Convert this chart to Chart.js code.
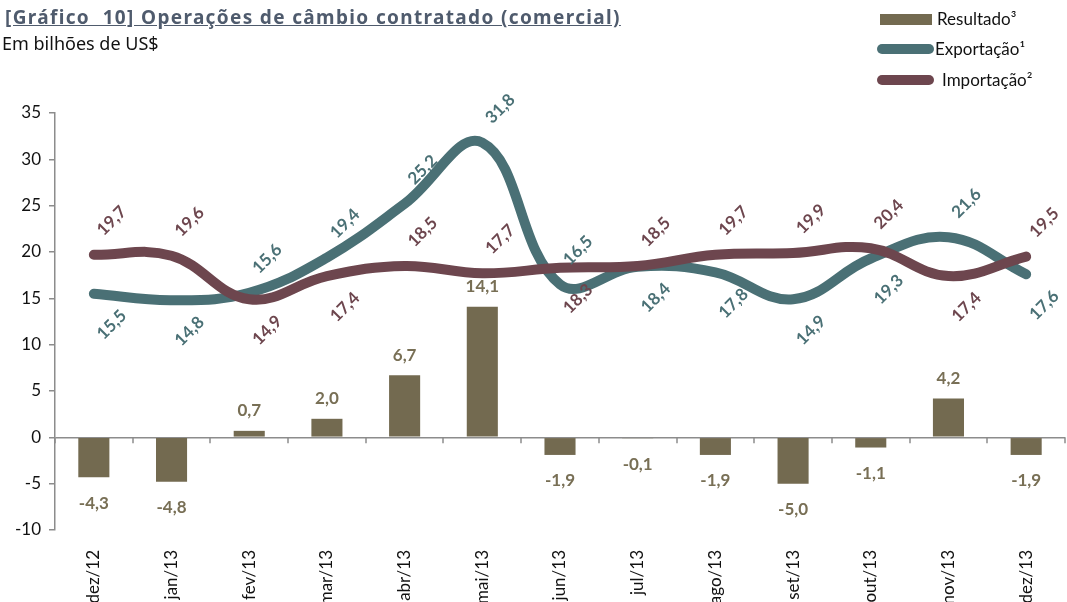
<!DOCTYPE html>
<html>
<head>
<meta charset="utf-8">
<script src="https://cdn.jsdelivr.net/npm/chart.js@4.4.0/dist/chart.umd.min.js"></script>
<style>
  body { margin: 0; background: #fff; }
  #wrap { position: relative; width: 1067px; height: 602px; overflow: hidden; }
  #chart { position: absolute; left: 0; top: 0; }
  .title { position: absolute; left: 5px; top: 4px; font: bold 19px 'Noto Sans', sans-serif; color: #4f5b6d;
           text-decoration: underline; white-space: pre; letter-spacing: 1.35px; }
  .sub { position: absolute; left: 2px; top: 31px; font: 18px 'Noto Sans', sans-serif; color: #111; }
  .leg { position: absolute; font: 17px Lato, sans-serif; color: #111; white-space: nowrap; line-height: 20px; }
  .sw { position: absolute; }
</style>
</head>
<body>
<div id="wrap">
  <canvas id="chart" width="1067" height="602"></canvas>
  <div class="title">[Gráfico  10] Operações de câmbio contratado (comercial)</div>
  <div class="sub">Em bilhões de US$</div>

  <div class="sw" style="left:880px;top:14px;width:52px;height:11px;background:#736a50"></div>
  <div class="leg" style="left:937px;top:9px">Resultado³</div>
  <div class="sw" style="left:877px;top:44px;width:57px;height:10px;border-radius:5px;background:#4a7075"></div>
  <div class="leg" style="left:935px;top:39px">Exportação¹</div>
  <div class="sw" style="left:877px;top:75px;width:57px;height:10px;border-radius:5px;background:#6d464e"></div>
  <div class="leg" style="left:942px;top:70px">Importação²</div>
</div>

<script>
// valores em bilhões de US$
const categories = ['dez/12', 'jan/13', 'fev/13', 'mar/13', 'abr/13', 'mai/13', 'jun/13',
                    'jul/13', 'ago/13', 'set/13', 'out/13', 'nov/13', 'dez/13'];
const resultado  = [-4.3, -4.8, 0.7, 2.0, 6.7, 14.1, -1.9, -0.1, -1.9, -5.0, -1.1, 4.2, -1.9];
const exportacao = [15.5, 14.8, 15.6, 19.4, 25.2, 31.8, 16.5, 18.4, 17.8, 14.9, 19.3, 21.6, 17.6];
const importacao = [19.7, 19.6, 14.9, 17.4, 18.5, 17.7, 18.3, 18.5, 19.7, 19.9, 20.4, 17.4, 19.5];
const yMin = -10, yMax = 35, yStep = 5;

// label side for the line series: a = above, b = below
const exportLabelSide = ['b','b','a','a','a','a','a','b','b','b','b','a','b'];
const importLabelSide = ['a','a','b','b','a','a','b','a','a','a','a','b','a'];

const OLIVE = '#736a50', TEAL = '#4a7075', WINE = '#6d464e', AXIS = '#8c8c8c';

const fmt = v => v.toFixed(1).replace('.', ',');

const zeroAxisTicks = {
  id: 'zeroAxisTicks',
  beforeDatasetsDraw(chart) {
    const ctx = chart.ctx, xs = chart.scales.x;
    const y0 = chart.scales.y.getPixelForValue(0);
    ctx.save();
    ctx.strokeStyle = AXIS;
    ctx.lineWidth = 1.5;
    for (let i = 0; i <= categories.length; i++) {
      const x = Math.round(xs.getPixelForValue(i - 0.5));
      ctx.beginPath();
      ctx.moveTo(x, y0);
      ctx.lineTo(x, y0 + 6);
      ctx.stroke();
    }
    ctx.restore();
  }
};

const valueLabels = {
  id: 'valueLabels',
  afterDatasetsDraw(chart) {
    const ctx = chart.ctx;
    chart.data.datasets.forEach((ds, i) => {
      const meta = chart.getDatasetMeta(i);
      meta.data.forEach((el, j) => {
        const v = ds.data[j];
        ctx.save();
        ctx.fillStyle = ds.labelColor;
        ctx.font = 'bold 17px Lato';
        ctx.textAlign = 'center';
        ctx.textBaseline = 'middle';
        if (ds.type === 'line') {
          const up = ds.labelSide[j] === 'a';
          ctx.translate(el.x + 18, el.y + (up ? -34 : 31));
          ctx.rotate(-Math.PI / 4);
          ctx.fillText(fmt(v), 0, 0);
        } else {
          const y = v >= 0 ? el.y - 20 : el.y + 26;
          ctx.fillText(fmt(v), el.x, y);
        }
        ctx.restore();
      });
    });
  }
};

new Chart(document.getElementById('chart'), {
  type: 'bar',
  data: {
    labels: categories,
    datasets: [
      {
        type: 'line', label: 'Importação²', data: importacao, order: 1,
        borderColor: WINE, borderWidth: 10, tension: 0.4, pointRadius: 0,
        borderCapStyle: 'round', borderJoinStyle: 'round', fill: false,
        labelColor: WINE, labelSide: importLabelSide
      },
      {
        type: 'line', label: 'Exportação¹', data: exportacao, order: 2,
        borderColor: TEAL, borderWidth: 10, tension: 0.4, pointRadius: 0,
        borderCapStyle: 'round', borderJoinStyle: 'round', fill: false,
        labelColor: TEAL, labelSide: exportLabelSide
      },
      {
        type: 'bar', label: 'Resultado³', data: resultado, order: 3,
        backgroundColor: OLIVE, barPercentage: 0.4, categoryPercentage: 1,
        labelColor: '#786f55'
      }
    ]
  },
  options: {
    responsive: false,
    animation: false,
    layout: { padding: { top: 113, right: 2, left: 0, bottom: 0 } },
    plugins: { legend: { display: false }, title: { display: false }, tooltip: { enabled: false } },
    scales: {
      x: {
        offset: true,
        grid: { display: false },
        border: { display: false },
        ticks: { color: '#111', font: { family: 'Lato', size: 17 }, minRotation: 90, maxRotation: 90, padding: 12 },
        afterFit: s => { s.height = 72; }
      },
      y: {
        min: yMin, max: yMax,
        ticks: { stepSize: yStep, color: '#111', font: { family: 'Lato', size: 17 }, padding: 8 },
        grid: {
          color: c => (c.tick && c.tick.value === 0) ? AXIS : 'rgba(0,0,0,0)',
          tickColor: AXIS, tickLength: 6, lineWidth: 1.5
        },
        border: { display: true, color: AXIS, width: 1.5 },
        afterFit: s => { s.width = 55; }
      }
    }
  },
  plugins: [zeroAxisTicks, valueLabels]
});
</script>
</body>
</html>
